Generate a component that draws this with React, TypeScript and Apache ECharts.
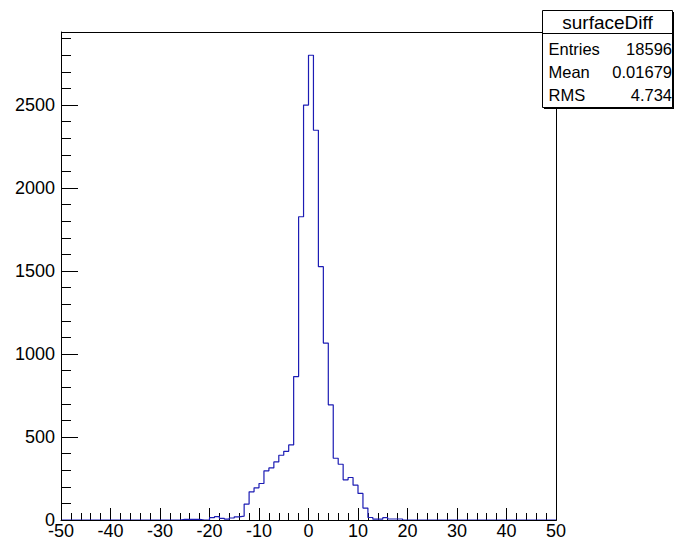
import React, { useEffect, useRef } from "react";
import * as echarts from "echarts";

// Histogram "surfaceDiff": 100 bins from -50 to 50 (bin width 1)
const xMin = -50;
const xMax = 50;
const binWidth = 1;
// counts per bin, bins ordered from [-50,-49] to [49,50]
const counts: number[] = [
  // -50 .. -41
  0, 0, 0, 0, 0, 0, 0, 0, 0, 0,
  // -40 .. -31
  0, 0, 0, 0, 0, 0, 0, 0, 0, 0,
  // -30 .. -21
  0, 0, 0, 0, 4, 4, 4, 4, 0, 0,
  // -20 .. -11
  14, 20, 10, 5, 12, 19, 23, 96, 170, 194,
  // -10 .. -1
  220, 296, 314, 350, 390, 414, 452, 864, 1827, 2500,
  // 0 .. 9
  2800, 2348, 1526, 1066, 694, 372, 336, 242, 256, 210,
  // 10 .. 19
  160, 72, 15, 5, 5, 14, 6, 6, 6, 0,
  // 20 .. 29
  0, 0, 0, 0, 0, 0, 0, 0, 0, 0,
  // 30 .. 39
  0, 0, 0, 0, 0, 0, 0, 0, 0, 0,
  // 40 .. 49
  0, 0, 0, 0, 0, 0, 0, 0, 0, 0,
];
const yMax = 2940;
const statsTitle = "surfaceDiff";
const statsLabels = ["Entries", "Mean", "RMS"];
const statsValues = ["18596", "0.01679", "4.734"];

const FONT = "'Liberation Sans', Arial, Helvetica, sans-serif";

export default function App() {
  const ref = useRef<HTMLDivElement>(null);
  useEffect(() => {
    if (!ref.current) return;
    const chart = echarts.init(ref.current, undefined, { renderer: "svg" });
    const data: [number, number][] = counts.map((c, i) => [xMin + i * binWidth, c]);
    data.push([xMax, 0]);

    const boxX = 542.5;
    const boxY = 10.5;
    const boxW = 130;
    const boxH = 97;
    const rowY = [48.5, 72, 95];

    const graphics: any[] = [
      {
        type: "rect",
        z: 100,
        silent: true,
        shape: { x: 61.5, y: 32.5, width: 495, height: 488 },
        style: { fill: "none", stroke: "#000", lineWidth: 1 },
      },
      {
        type: "rect",
        z: 101,
        silent: true,
        shape: { x: boxX + 1.5, y: boxY + 1.5, width: boxW, height: boxH },
        style: { fill: "#000", stroke: "none" },
      },
      {
        type: "rect",
        z: 102,
        silent: true,
        shape: { x: boxX, y: boxY, width: boxW, height: boxH },
        style: { fill: "#fff", stroke: "#000", lineWidth: 1 },
      },
      {
        type: "line",
        z: 103,
        silent: true,
        shape: { x1: boxX, y1: 33.5, x2: boxX + boxW, y2: 33.5 },
        style: { stroke: "#000", lineWidth: 1 },
      },
      {
        type: "text",
        z: 103,
        silent: true,
        x: boxX + boxW / 2,
        y: 22,
        style: {
          text: statsTitle,
          font: `19px ${FONT}`,
          fill: "#000",
          align: "center",
          verticalAlign: "middle",
        },
      },
    ];
    statsLabels.forEach((lab, i) => {
      graphics.push({
        type: "text",
        z: 103,
        silent: true,
        x: boxX + 6,
        y: rowY[i],
        style: { text: lab, font: `16.5px ${FONT}`, fill: "#000", align: "left", verticalAlign: "middle" },
      });
      graphics.push({
        type: "text",
        z: 103,
        silent: true,
        x: boxX + boxW - 0.5,
        y: rowY[i],
        style: { text: statsValues[i], font: `16.5px ${FONT}`, fill: "#000", align: "right", verticalAlign: "middle" },
      });
    });

    const labelStyle = { color: "#000", fontSize: 18, fontFamily: FONT };

    chart.setOption({
      animation: false,
      backgroundColor: "#fff",
      grid: { left: 61, top: 32, width: 495, height: 488, containLabel: false },
      xAxis: {
        type: "value",
        min: xMin,
        max: xMax,
        interval: 10,
        axisLine: { show: true, onZero: false, lineStyle: { color: "#000", width: 1 } },
        axisTick: { show: true, inside: true, length: 12, lineStyle: { color: "#000" } },
        minorTick: { show: true, splitNumber: 5, length: 7, lineStyle: { color: "#000" } },
        splitLine: { show: false },
        axisLabel: { ...labelStyle, margin: 2, formatter: (v: number) => String(v) },
      },
      yAxis: [
        {
          type: "value",
          min: 0,
          max: yMax,
          interval: 500,
          position: "left",
          axisLine: { show: true, onZero: false, lineStyle: { color: "#000", width: 1 } },
          axisTick: { show: true, inside: true, length: 17, lineStyle: { color: "#000" } },
          splitLine: { show: false },
          axisLabel: { ...labelStyle, margin: 6, showMaxLabel: false, formatter: (v: number) => String(v) },
        },
        {
          type: "value",
          min: 0,
          max: yMax,
          interval: 100,
          position: "left",
          axisLine: { show: false, onZero: false },
          axisTick: { show: true, inside: true, length: 10, lineStyle: { color: "#000" } },
          splitLine: { show: false },
          axisLabel: { show: false },
        },
      ],
      series: [
        {
          type: "line",
          step: "end",
          data,
          symbol: "none",
          xAxisIndex: 0,
          yAxisIndex: 0,
          lineStyle: { color: "#1c1cb4", width: 1.2 },
          silent: true,
        },
      ],
      graphic: graphics,
    });
    return () => chart.dispose();
  }, []);
  return (
    <div
      ref={ref}
      style={{ position: "fixed", left: 0, top: 0, width: 674, height: 543, background: "#fff" }}
    />
  );
}
